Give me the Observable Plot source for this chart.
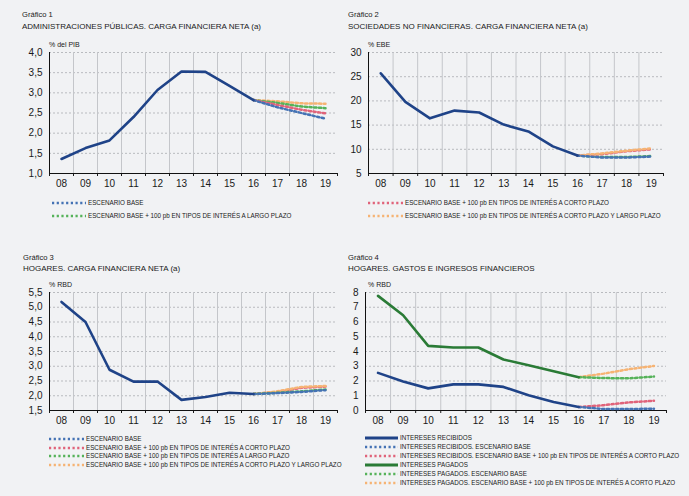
<!DOCTYPE html>
<html><head><meta charset="utf-8">
<script src="https://cdn.jsdelivr.net/npm/d3@7"></script>
<script src="https://cdn.jsdelivr.net/npm/@observablehq/plot@0.6"></script>
<style>
body{margin:0;background:#f1f2f4;}
#root{position:relative;width:689px;height:496px;overflow:hidden;background:#f1f2f4;font-family:"Liberation Sans",Arial,sans-serif;color:#1a1a1a;}
.t{position:absolute;white-space:nowrap;line-height:1;}
.lg{position:absolute;white-space:nowrap;font-family:"Liberation Sans",Arial,sans-serif;font-size:7.3px;line-height:8px;height:8px;display:flex;align-items:center;}
.lg svg{margin-right:2px;display:block;flex:none;}
.lg span{display:inline-block;transform:scaleX(0.86);transform-origin:0 50%;}
#root > svg{position:absolute;}
</style></head><body><div id="root"></div>
<script>
// ---- data ----
const years = [2008,2009,2010,2011,2012,2013,2014,2015,2016,2017,2018,2019];
const yearLabels = ["08","09","10","11","12","13","14","15","16","17","18","19"];
const histYears = [2008,2009,2010,2011,2012,2013,2014,2015,2016];
const projYears = [2016,2017,2018,2019];

// Gráfico 1
const g1Hist  = [1.36,1.63,1.82,2.40,3.07,3.53,3.52,3.17,2.82];
const g1Base  = [2.82,2.64,2.50,2.36];
const g1Corto = [2.82,2.70,2.58,2.49];
const g1Largo = [2.82,2.75,2.66,2.62];
const g1Ambos = [2.82,2.79,2.74,2.73];
// Gráfico 2
const g2Hist  = [25.7,19.8,16.4,18.0,17.6,15.1,13.7,10.6,8.7];
const g2Base  = [8.7,8.3,8.3,8.5];
const g2Corto = [8.7,9.0,9.6,10.0];
const g2Largo = [8.7,8.4,8.4,8.6];
const g2Ambos = [8.7,9.15,9.7,10.2];
// Gráfico 3
const g3Hist  = [5.18,4.50,2.88,2.48,2.48,1.86,1.96,2.10,2.06];
const g3Base  = [2.06,2.09,2.13,2.19];
const g3Corto = [2.06,2.13,2.27,2.31];
const g3Largo = [2.06,2.10,2.15,2.21];
const g3Ambos = [2.06,2.15,2.30,2.33];
// Gráfico 4
const g4Recibidos = [2.55,1.96,1.50,1.77,1.77,1.60,1.04,0.58,0.24];
const g4RecBase   = [0.24,0.10,0.10,0.12];
const g4RecCorto  = [0.24,0.36,0.55,0.66];
const g4Pagados   = [7.77,6.46,4.38,4.27,4.27,3.46,3.07,2.66,2.26];
const g4PagBase   = [2.26,2.20,2.18,2.30];
const g4PagCorto  = [2.26,2.50,2.80,3.02];

// legend labels
const L_BASE = "ESCENARIO BASE";
const L_CORTO = "ESCENARIO BASE + 100 pb EN TIPOS DE INTERÉS A CORTO PLAZO";
const L_LARGO = "ESCENARIO BASE + 100 pb EN TIPOS DE INTERÉS A LARGO PLAZO";
const L_AMBOS = "ESCENARIO BASE + 100 pb EN TIPOS DE INTERÉS A CORTO PLAZO Y LARGO PLAZO";

// ---- styles ----
const C = {navy:"#1f4388", green:"#2a7b36", dBlue:"#4472b4", dRed:"#e0637a", dGreen:"#55b259", dOrange:"#f6b373"};
const DASH = "2.2,2.5";

const root = document.getElementById("root");
const toRows = (xs, ys) => xs.map((x,i)=>({x, y: ys[i]}));
const comma1 = d => d.toFixed(1).replace(".", ",");

function text(str, x, y, size, extra) {
  const d = document.createElement("div");
  d.className = "t";
  d.textContent = str;
  d.style.left = x + "px";
  d.style.top = (y - size/2) + "px";
  d.style.fontSize = size + "px";
  if (extra) Object.assign(d.style, extra);
  root.appendChild(d);
}

function legendRow(x, y, label, color, solid, sw) {
  const d = document.createElement("div");
  d.className = "lg";
  d.style.left = x + "px";
  d.style.top = (y - 4) + "px";
  const w = sw || 34;
  d.innerHTML = `<svg width="${w}" height="6"><line x1="0" x2="${w}" y1="3" y2="3" stroke="${color}" stroke-width="${solid?3.2:2.4}" ${solid?"":`stroke-dasharray="${DASH}"`}/></svg><span>${label}</span>`;
  root.appendChild(d);
}

function panel(cfg) {
  const x0 = 2007.5, x1 = 2019.5;
  const grid = years.slice(0, 11).map(y => y + 0.5);
  const edges = [2007.5, ...grid, 2019.5];
  const marks = [
    Plot.gridY({ticks: cfg.yTicks, stroke: "#b9bbbf", strokeOpacity: 1, strokeDasharray: "2,2"}),
    Plot.gridX({ticks: grid, stroke: "#c4c6ca", strokeOpacity: 1}),
    Plot.axisY({ticks: cfg.yTicks, tickSize: 0, tickPadding: 7, tickFormat: cfg.fmt, label: null, fontSize: 10}),
    Plot.axisX({ticks: years, tickSize: 0, tickPadding: 6, tickFormat: (d) => yearLabels[years.indexOf(d)], label: null, fontSize: 10}),
    Plot.axisX({ticks: edges, tickSize: 3, tickFormat: () => "", label: null}),
    Plot.ruleX([x0], {stroke: "#111", strokeWidth: 1}),
    Plot.ruleY([cfg.yDomain[0]], {stroke: "#111", strokeWidth: 1.2})
  ];
  for (const s of cfg.proj) {
    marks.push(Plot.line(toRows(projYears, s.values), {x: "x", y: "y", stroke: s.color, strokeWidth: 2.5, strokeDasharray: DASH}));
  }
  for (const s of cfg.hist) {
    marks.push(Plot.line(toRows(histYears, s.values), {x: "x", y: "y", stroke: s.color, strokeWidth: 2.6}));
  }
  const svg = Plot.plot({
    width: cfg.width, height: cfg.height,
    marginLeft: cfg.mL, marginRight: cfg.mR, marginTop: cfg.mT, marginBottom: cfg.mB,
    style: {background: "transparent", fontFamily: "'Liberation Sans', Arial, sans-serif", fontSize: "10px", color: "#1a1a1a", overflow: "visible"},
    x: {type: "linear", domain: [x0, x1]},
    y: {domain: cfg.yDomain},
    marks
  });
  svg.style.left = cfg.left + "px";
  svg.style.top = cfg.top + "px";
  root.appendChild(svg);
}

// Panel 1
panel({left:0, top:40, width:345, height:153, mL:49, mR:8, mT:12, mB:20,
  yDomain:[1,4], yTicks:[1,1.5,2,2.5,3,3.5,4], fmt: comma1,
  hist:[{values:g1Hist, color:C.navy}],
  proj:[{values:g1Ambos,color:C.dOrange},{values:g1Largo,color:C.dGreen},{values:g1Corto,color:C.dRed},{values:g1Base,color:C.dBlue}]});
// Panel 2
panel({left:345, top:40, width:344, height:153, mL:23, mR:26, mT:12, mB:20,
  yDomain:[5,30], yTicks:[5,10,15,20,25,30], fmt: d => String(d),
  hist:[{values:g2Hist, color:C.navy}],
  proj:[{values:g2Largo,color:C.dGreen},{values:g2Corto,color:C.dRed},{values:g2Ambos,color:C.dOrange},{values:g2Base,color:C.dBlue}]});
// Panel 3
panel({left:0, top:280, width:345, height:150, mL:49, mR:8, mT:12, mB:20,
  yDomain:[1.5,5.5], yTicks:[1.5,2,2.5,3,3.5,4,4.5,5,5.5], fmt: comma1,
  hist:[{values:g3Hist, color:C.navy}],
  proj:[{values:g3Corto,color:C.dRed},{values:g3Ambos,color:C.dOrange},{values:g3Largo,color:C.dGreen},{values:g3Base,color:C.dBlue}]});
// Panel 4
panel({left:345, top:280, width:344, height:150, mL:20, mR:23, mT:12, mB:20,
  yDomain:[0,8], yTicks:[0,1,2,3,4,5,6,7,8], fmt: d => String(d),
  hist:[{values:g4Recibidos, color:C.navy},{values:g4Pagados, color:C.green}],
  proj:[{values:g4PagCorto,color:C.dOrange},{values:g4PagBase,color:C.dGreen},{values:g4RecCorto,color:C.dRed},{values:g4RecBase,color:C.dBlue}]});

// titles
text("Gráfico 1", 22, 15, 7.6);
text("ADMINISTRACIONES PÚBLICAS. CARGA FINANCIERA NETA (a)", 22, 27, 8);
text("% del PIB", 49, 44, 7);
text("Gráfico 2", 348, 15, 7.6);
text("SOCIEDADES NO FINANCIERAS. CARGA FINANCIERA NETA (a)", 348, 27, 8);
text("% EBE", 368, 44, 7);
text("Gráfico 3", 23, 258, 7.6);
text("HOGARES. CARGA FINANCIERA NETA (a)", 23, 269, 8);
text("% RBD", 49, 284, 7);
text("Gráfico 4", 348, 258, 7.6);
text("HOGARES. GASTOS E INGRESOS FINANCIEROS", 348, 269, 8);
text("% RBD", 368, 284, 7);

// legends
legendRow(52, 202.5, L_BASE, C.dBlue);
legendRow(52, 216, L_LARGO, C.dGreen);
legendRow(368, 202.5, L_CORTO, C.dRed, false, 35);
legendRow(368, 216, L_AMBOS, C.dOrange, false, 35);
legendRow(49, 439, L_BASE, C.dBlue, false, 35);
legendRow(49, 447.5, L_CORTO, C.dRed, false, 35);
legendRow(49, 456, L_LARGO, C.dGreen, false, 35);
legendRow(49, 464.5, L_AMBOS, C.dOrange, false, 35);
legendRow(365, 438, "INTERESES RECIBIDOS", C.navy, true, 33);
legendRow(365, 447, "INTERESES RECIBIDOS. ESCENARIO BASE", C.dBlue, false, 33);
legendRow(365, 456, "INTERESES RECIBIDOS. ESCENARIO BASE + 100 pb EN TIPOS DE INTERÉS A CORTO PLAZO", C.dRed, false, 33);
legendRow(365, 465, "INTERESES PAGADOS", C.green, true, 33);
legendRow(365, 473.5, "INTERESES PAGADOS. ESCENARIO BASE", C.dGreen, false, 33);
legendRow(365, 482.5, "INTERESES PAGADOS. ESCENARIO BASE + 100 pb EN TIPOS DE INTERÉS A CORTO PLAZO", C.dOrange, false, 33);
</script></body></html>
